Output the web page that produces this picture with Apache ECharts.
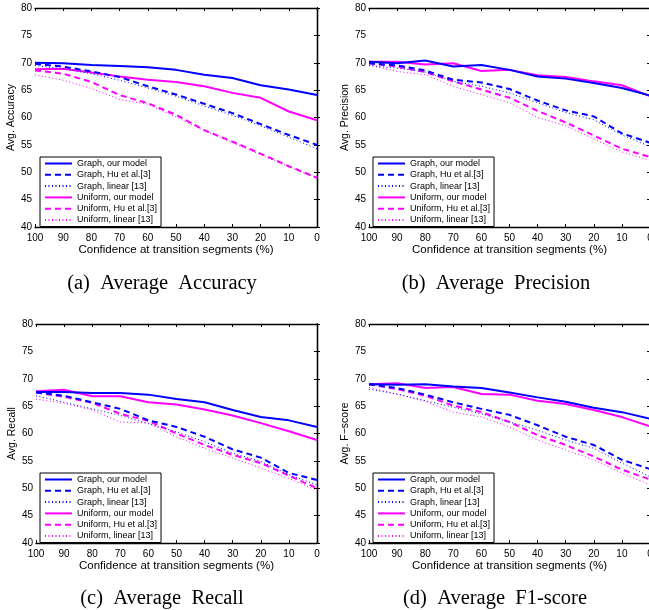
<!DOCTYPE html>
<html>
<head>
<meta charset="utf-8">
<script src="https://cdn.jsdelivr.net/npm/echarts@6/dist/echarts.min.js"></script>
<style>
html,body{margin:0;padding:0;background:#fff;}
#chart{width:649px;height:610px;}
</style>
</head>
<body>
<div id="chart"></div>
<script>
// Confidence levels (x values)
const confidence = [100, 90, 80, 70, 60, 50, 40, 30, 20, 10, 0];
const seriesNames = ['Graph, our model', 'Graph, Hu et al.[3]', 'Graph, linear [13]',
                     'Uniform, our model', 'Uniform, Hu et al.[3]', 'Uniform, linear [13]'];
const yAxisNames = ['Avg. Accuracy', 'Avg. Precision', 'Avg. Recall', 'Avg. F\u2212score'];
const captions = ['(a)  Average  Accuracy', '(b)  Average  Precision', '(c)  Average  Recall', '(d)  Average  F1-score'];

// (a) Accuracy
const accGraphOurs   = [70.0, 69.9, 69.6, 69.4, 69.2, 68.7, 67.8, 67.2, 65.9, 65.1, 64.1];
const accGraphHu     = [69.8, 69.3, 68.4, 67.4, 65.7, 64.2, 62.5, 60.8, 58.8, 56.8, 55.0];
const accGraphLin    = [69.5, 68.9, 68.0, 66.8, 65.4, 63.9, 62.1, 60.4, 58.5, 56.4, 54.3];
const accUnifOurs    = [68.8, 68.9, 68.2, 67.5, 66.9, 66.5, 65.7, 64.5, 63.6, 61.1, 59.5];
const accUnifHu      = [68.6, 68.0, 66.5, 64.1, 62.6, 60.5, 57.7, 55.6, 53.4, 51.1, 49.0];
const accUnifLin     = [67.8, 66.8, 65.3, 63.3, 62.4, 60.1, 57.6, 55.4, 53.2, 51.0, 48.9];

// (b) Precision
const preGraphOurs   = [70.2, 69.9, 70.4, 69.3, 69.6, 68.7, 67.5, 67.1, 66.3, 65.4, 64.0];
const preGraphHu     = [69.9, 69.5, 68.6, 66.9, 66.4, 65.2, 63.1, 61.3, 60.2, 57.1, 55.4];
const preGraphLin    = [69.5, 69.0, 68.3, 66.6, 65.7, 64.5, 62.7, 60.9, 59.6, 56.8, 54.7];
const preUnifOurs    = [70.2, 70.2, 69.7, 69.9, 68.5, 68.7, 67.7, 67.4, 66.6, 65.9, 63.9];
const preUnifHu      = [69.9, 69.3, 68.3, 66.6, 65.1, 63.6, 61.2, 59.1, 56.7, 54.3, 52.8];
const preUnifLin     = [69.6, 68.4, 67.8, 65.7, 64.2, 62.7, 60.0, 58.5, 56.1, 53.7, 52.2];

// (c) Recall
const recGraphOurs   = [67.6, 67.6, 67.4, 67.4, 67.1, 66.3, 65.7, 64.3, 63.0, 62.4, 61.2];
const recGraphHu     = [67.5, 66.9, 65.7, 64.5, 62.4, 61.2, 59.4, 57.1, 55.6, 52.8, 51.5];
const recGraphLin    = [66.9, 65.7, 64.5, 63.3, 61.8, 60.3, 58.5, 56.4, 54.9, 52.5, 50.6];
const recUnifOurs    = [67.7, 68.0, 66.8, 66.8, 65.7, 65.3, 64.4, 63.3, 61.9, 60.4, 58.8];
const recUnifHu      = [67.5, 66.7, 65.6, 63.6, 62.3, 60.0, 57.9, 56.1, 54.6, 52.3, 50.0];
const recUnifLin     = [66.3, 65.5, 64.3, 62.1, 61.9, 59.4, 57.3, 55.5, 53.7, 51.8, 49.6];

// (d) F1-score
const f1GraphOurs    = [69.0, 68.9, 69.0, 68.6, 68.3, 67.5, 66.6, 65.8, 64.7, 63.9, 62.7];
const f1GraphHu      = [69.0, 68.3, 67.1, 65.7, 64.5, 63.4, 61.5, 59.4, 57.9, 55.2, 53.5];
const f1GraphLin     = [68.1, 67.2, 66.0, 64.8, 63.6, 62.1, 60.6, 58.8, 57.3, 54.6, 52.1];
const f1UnifOurs     = [69.0, 69.2, 68.3, 68.5, 67.2, 67.1, 66.0, 65.4, 64.3, 63.0, 61.3];
const f1UnifHu       = [69.0, 68.1, 66.9, 65.1, 63.9, 62.1, 59.7, 57.9, 55.8, 53.4, 51.6];
const f1UnifLin      = [68.4, 67.2, 65.9, 63.9, 63.0, 61.2, 58.8, 57.0, 55.2, 52.8, 50.6];

const panels = [
  [accGraphOurs, accGraphHu, accGraphLin, accUnifOurs, accUnifHu, accUnifLin],
  [preGraphOurs, preGraphHu, preGraphLin, preUnifOurs, preUnifHu, preUnifLin],
  [recGraphOurs, recGraphHu, recGraphLin, recUnifOurs, recUnifHu, recUnifLin],
  [f1GraphOurs, f1GraphHu, f1GraphLin, f1UnifOurs, f1UnifHu, f1UnifLin]
];

// layout / style
const BLUE = '#0000ff', MAGENTA = '#ff00ff';
const styles = [
  {color: BLUE, width: 2, type: 'solid'},
  {color: BLUE, width: 2, type: [6, 4]},
  {color: BLUE, width: 1, type: [1, 2.5]},
  {color: MAGENTA, width: 2, type: 'solid'},
  {color: MAGENTA, width: 2, type: [6, 4]},
  {color: MAGENTA, width: 1, type: [1, 2.5]}
];
const gridPos = [
  {left: 35, top: 8, width: 282, height: 219},
  {left: 369, top: 8, width: 281, height: 219},
  {left: 36, top: 324, width: 281, height: 219},
  {left: 369, top: 324, width: 281, height: 219}
];
const legendPos = [
  {left: 40, top: 157},
  {left: 373, top: 157},
  {left: 40, top: 473},
  {left: 373, top: 473}
];
const captionPos = [
  {x: 162, y: 273},
  {x: 496, y: 273},
  {x: 162, y: 588},
  {x: 495, y: 588}
];

const FONT = 'Liberation Sans';
const axisLine = {show: true, lineStyle: {color: '#000', width: 1.3}};
const grids = [], xAxes = [], yAxes = [], series = [], legends = [], titles = [];

gridPos.forEach((g, i) => {
  grids.push(Object.assign({containLabel: false, outerBoundsMode: 'none'}, g));
  xAxes.push({
    gridIndex: i, type: 'value', inverse: true, min: 0, max: 100, interval: 10,
    position: 'bottom',
    name: 'Confidence at transition segments (%)', nameLocation: 'middle', nameGap: 16,
    nameTextStyle: {fontFamily: FONT, fontSize: 11.5, color: '#000'},
    axisLine: axisLine,
    axisTick: {show: true, inside: true, length: 3, lineStyle: {color: '#000', width: 1}},
    axisLabel: {fontFamily: FONT, fontSize: 10, color: '#000', margin: 6, hideOverlap: false},
    splitLine: {show: false}
  });
  xAxes.push({
    gridIndex: i, type: 'value', inverse: true, min: 0, max: 100, interval: 10,
    position: 'top',
    axisLine: axisLine,
    axisTick: {show: true, inside: true, length: 3, lineStyle: {color: '#000', width: 1}},
    axisLabel: {show: false}, splitLine: {show: false}
  });
  yAxes.push({
    gridIndex: i, type: 'value', min: 40, max: 80, interval: 5,
    position: 'left',
    name: yAxisNames[i], nameLocation: 'middle', nameGap: 14, nameRotate: 90,
    nameTextStyle: {fontFamily: FONT, fontSize: 10.5, color: '#000'},
    axisLine: axisLine,
    axisTick: {show: true, inside: true, length: 3, lineStyle: {color: '#000', width: 1}},
    axisLabel: {fontFamily: FONT, fontSize: 10, color: '#000', margin: 3},
    splitLine: {show: false}
  });
  yAxes.push({
    gridIndex: i, type: 'value', min: 40, max: 80, interval: 5,
    position: 'right',
    axisLine: axisLine,
    axisTick: {show: true, inside: true, length: 3, lineStyle: {color: '#000', width: 1}},
    axisLabel: {show: false}, splitLine: {show: false}
  });
  panels[i].forEach((vals, j) => {
    series.push({
      type: 'line', name: seriesNames[j],
      xAxisIndex: 2 * i, yAxisIndex: 2 * i,
      data: confidence.map((c, k) => [c, vals[k]]),
      showSymbol: false, symbol: 'none', animation: false,
      lineStyle: {color: styles[j].color, width: styles[j].width, type: styles[j].type},
      itemStyle: {color: styles[j].color},
      z: 10 - j
    });
  });
  legends.push({
    left: legendPos[i].left, top: legendPos[i].top,
    orient: 'vertical', data: seriesNames.slice(),
    backgroundColor: '#fff', borderColor: '#000', borderWidth: 1,
    padding: [2, 4, 2, 4], itemGap: 2.3, itemWidth: 27, itemHeight: 9,
    itemStyle: {opacity: 0},
    textStyle: {fontFamily: FONT, fontSize: 9, color: '#000'},
    selectedMode: false, z: 20
  });
  titles.push({
    text: captions[i], left: captionPos[i].x, top: captionPos[i].y, textAlign: 'center',
    textStyle: {fontFamily: 'Liberation Serif', fontSize: 20.5, fontWeight: 'normal', color: '#000'},
    padding: 0
  });
});

const chart = echarts.init(document.getElementById('chart'), null, {renderer: 'canvas'});
chart.setOption({
  animation: false,
  backgroundColor: '#fff',
  title: titles,
  grid: grids,
  xAxis: xAxes,
  yAxis: yAxes,
  legend: legends,
  series: series
});
</script>
</body>
</html>
